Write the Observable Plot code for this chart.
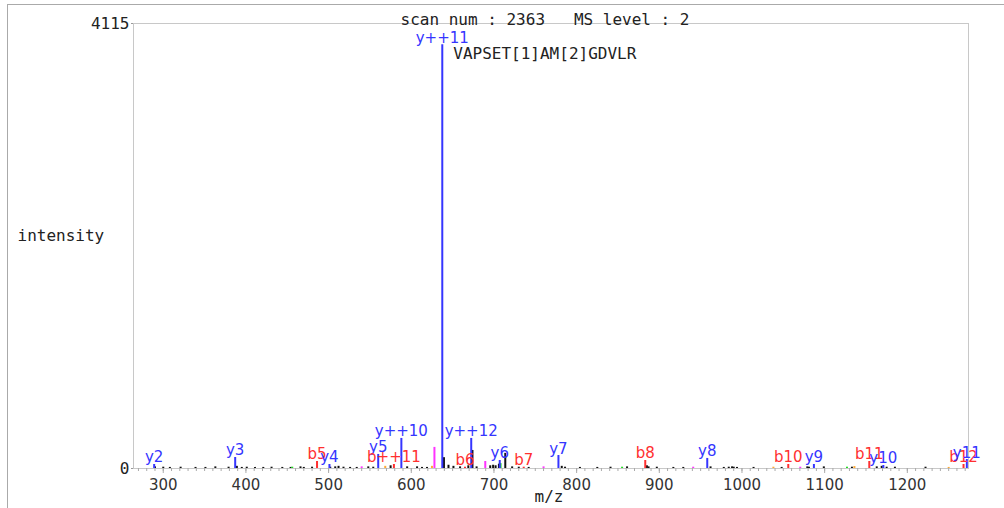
<!DOCTYPE html>
<html>
<head>
<meta charset="utf-8">
<script src="https://cdn.jsdelivr.net/npm/d3@7"></script>
<script src="https://cdn.jsdelivr.net/npm/@observablehq/plot@0.6"></script>
<style>
  html, body { margin: 0; padding: 0; background: #fff; }
  #wrap { position: relative; width: 1004px; height: 508px; overflow: hidden; }
  #border { position: absolute; left: 7px; top: 4px; width: 1010px; height: 520px; border-top: 1px solid #aaa; border-left: 1px solid #aaa; pointer-events: none; }
  svg text { white-space: pre; }
</style>
</head>
<body>
<div id="wrap"><div id="border"></div></div>
<script>
// Annotated fragment peaks
const annLabel = ["y2","y3","b5","y4","y5","b++11","y++10","y++11","y++12","b6","y6","b7","y7","b8","y8","b10","y9","b11","y10","b12","y11"];
const annMz    = [289, 387, 486, 501, 560, 579, 588, 637.5, 672.5, 665, 707, 736, 778, 883, 958, 1056, 1087, 1154, 1171, 1268, 1272];
const annInt   = [37, 102, 65, 37, 130, 37, 278, 3919, 278, 12, 74, 12, 120, 74, 93, 37, 37, 65, 28, 37, 83];
const annIon   = ["y","y","b","y","y","b","y","y","y","b","y","b","y","b","y","b","y","b","y","b","y"];

// Unannotated peaks
const noiseMz  = [290,300,308,321,339,351,363,379,389,395,401,411,421,431,444,454,456,466,470,480,502,508,512,518,526,534,540,548,554,568.5,575,595,607,613,619,625,628,639.5,645,651,659,669,674,679,689.5,695.5,699,702,706,708,713.7,722,730,742,760,782,786,804,825,841,855,861,885,887,897,917,929,941,962,978,984,988,990,994,1014,1038,1048,1070.5,1079,1081,1099,1127,1133,1136,1163,1169,1175,1185,1222,1250];
const noiseInt = [15,12,10,12,10,10,15,12,20,10,12,10,10,12,10,10,12,15,10,12,12,15,20,12,10,10,15,15,12,20,25,15,15,10,10,20,195,100,30,20,15,25,167,15,65,25,30,25,40,45,140,15,12,10,15,20,12,10,10,12,12,15,25,15,12,10,10,12,15,10,12,15,12,10,10,12,10,12,15,12,15,12,12,18,15,20,12,12,12,10];
const noiseKind = ["k","k","k","k","k","k","k","k","k","k","k","k","k","k","k","k","g","k","k","k","k","k","k","k","k","k","m","k","k","o","k","k","k","k","k","o","m","k","k","k","k","k","k","k","m","k","k","k","k","g","k","k","k","k","m","k","k","k","k","k","g","k","k","k","k","k","k","m","k","k","k","k","k","k","k","o","k","m","k","k","k","g","k","o","k","k","k","k","k","o"];

const xTicks = [300,400,500,600,700,800,900,1000,1100,1200];
const xMinor = d3.range(270, 1280, 10);
const yTicks = [0, 4115];
const sequence = "VAPSET[1]AM[2]GDVLR";
const scanTitle = "scan num : 2363   MS level : 2";

const ionColor = {y: "#3535ff", b: "#ff3030"};
const kindColor = {k: "#111", g: "#22dd22", m: "#ff33ff", o: "#ffaa33"};

const ann = annLabel.map((l, i) => ({label: l, mz: annMz[i], int: annInt[i], color: ionColor[annIon[i]]}));
const noise = noiseMz.map((m, i) => ({mz: m, int: noiseInt[i], color: kindColor[noiseKind[i]]}));
const topPeak = ann.reduce((a, b) => (b.int > a.int ? b : a));

const mono = "'DejaVu Sans Mono', monospace";
const sans = "'DejaVu Sans', sans-serif";

const chart = Plot.plot({
  width: 1004,
  height: 508,
  marginLeft: 133,
  marginRight: 36,
  marginTop: 23,
  marginBottom: 40,
  style: {background: "transparent", overflow: "visible"},
  x: {domain: [264, 1274], label: null},
  y: {domain: [0, 4115], label: null},
  marks: [
    Plot.frame({stroke: "#c8c8c8"}),
    Plot.axisX({ticks: xMinor, tickSize: 3, stroke: "#aaa", tickFormat: () => "", label: null}),
    Plot.axisX({ticks: xTicks, tickSize: 5, tickPadding: 6, stroke: "#aaa", fill: "#333", fontSize: 15, fontFamily: sans, label: null, tickFormat: d => String(d)}),
    Plot.axisY({ticks: yTicks, tickSize: 2, tickPadding: 2, stroke: "#999", fill: "#222", fontSize: 16, fontFamily: mono, label: null, tickFormat: d => String(d)}),
    Plot.ruleX(noise, {x: "mz", y1: 0, y2: "int", stroke: "color", strokeWidth: 2}),
    Plot.ruleX(ann, {x: "mz", y1: 0, y2: "int", stroke: "color", strokeWidth: 2}),
    Plot.text(ann, {x: "mz", y: "int", text: "label", fill: "color", lineAnchor: "bottom", dy: -2, fontSize: 15, fontFamily: sans}),
    Plot.text([topPeak], {x: "mz", y: "int", text: () => sequence, textAnchor: "start", lineAnchor: "top", dx: 11, dy: 3, fontSize: 16, fontFamily: mono, fill: "#222"}),
    Plot.text([scanTitle], {frameAnchor: "top", text: d => d, dx: -6, dy: -10, fontSize: 16, fontFamily: mono, fill: "#222"}),
    Plot.text(["intensity"], {frameAnchor: "left", text: d => d, textAnchor: "start", dx: -116, dy: -10, fontSize: 16, fontFamily: mono, fill: "#222"}),
    Plot.text(["m/z"], {frameAnchor: "bottom", text: d => d, dx: -2, dy: 33, fontSize: 16, fontFamily: mono, fill: "#222"})
  ]
});
document.getElementById("wrap").prepend(chart);
</script>
</body>
</html>
